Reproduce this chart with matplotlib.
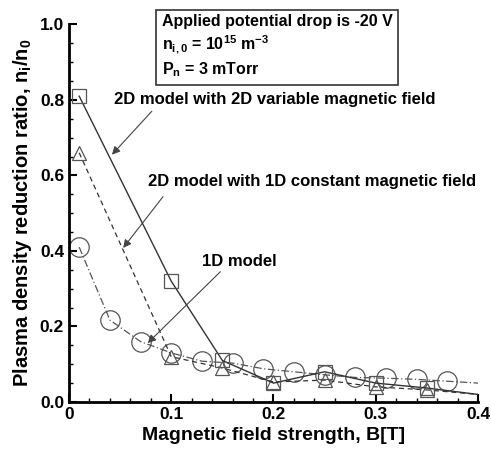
import matplotlib
matplotlib.use("Agg")
import matplotlib.pyplot as plt
from matplotlib.ticker import MultipleLocator

plt.rcParams['font.family'] = ['Liberation Sans', 'DejaVu Sans']
plt.rcParams['font.weight'] = 'bold'
plt.rcParams['mathtext.fontset'] = 'custom'
plt.rcParams['mathtext.rm'] = 'Liberation Sans:bold'
plt.rcParams['mathtext.it'] = 'Liberation Sans:bold'
plt.rcParams['mathtext.bf'] = 'Liberation Sans:bold'
plt.rcParams['mathtext.default'] = 'rm'

# 2D model with 2D variable magnetic field (squares, solid)
b_sq = [0.01, 0.10, 0.15, 0.20, 0.25, 0.30, 0.35, 0.40]
n_sq = [0.81, 0.32, 0.11, 0.05, 0.08, 0.05, 0.037, 0.02]
sq_marked = 7  # markers for the first 7 points

# 2D model with 1D constant magnetic field (triangles, dashed)
b_tr = [0.01, 0.10, 0.15, 0.20, 0.25, 0.30, 0.35, 0.40]
n_tr = [0.66, 0.12, 0.09, 0.053, 0.058, 0.04, 0.032, 0.02]

# 1D model (circles, dash-dot)
b_ci = [0.01, 0.04, 0.07, 0.10, 0.13, 0.16, 0.19, 0.22, 0.25, 0.28, 0.31, 0.34, 0.37, 0.40]
n_ci = [0.41, 0.217, 0.16, 0.13, 0.108, 0.103, 0.088, 0.08, 0.072, 0.065, 0.063, 0.06, 0.055, 0.05]

x_ticks = [0, 0.1, 0.2, 0.3, 0.4]
x_ticklabels = ['0', '0.1', '0.2', '0.3', '0.4']
y_ticks = [0, 0.2, 0.4, 0.6, 0.8, 1.0]
y_ticklabels = ['0.0', '0.2', '0.4', '0.6', '0.8', '1.0']

fig = plt.figure(figsize=(4.91, 4.5), dpi=100)
ax = fig.add_axes([0.1405, 0.1067, 0.833, 0.839])

ax.plot(b_ci, n_ci, color='#555555', lw=0.9, ls=(0, (6, 2, 1, 2)))
ax.plot(b_ci[:-1], n_ci[:-1], ls='none', marker='o', ms=14, mfc='none', mec='#555555', mew=0.9)
ax.plot(b_tr, n_tr, color='#333333', lw=0.9, ls=(0, (4, 3)))
ax.plot(b_tr[:-1], n_tr[:-1], ls='none', marker='^', ms=10, mfc='none', mec='#555555', mew=0.9)
ax.plot(b_sq, n_sq, color='#333333', lw=1.0, ls='-')
ax.plot(b_sq[:sq_marked], n_sq[:sq_marked], ls='none', marker='s', ms=10, mfc='none', mec='#555555', mew=0.9)

ax.set_xlim(0, 0.4)
ax.set_ylim(0, 1.0)
ax.spines['top'].set_visible(False)
ax.spines['right'].set_visible(False)
ax.spines['left'].set_linewidth(2)
ax.spines['bottom'].set_linewidth(2)
ax.set_xticks(x_ticks)
ax.set_xticklabels(x_ticklabels, fontweight='bold')
ax.set_yticks(y_ticks)
ax.set_yticklabels(y_ticklabels, fontweight='bold')
ax.xaxis.set_minor_locator(MultipleLocator(0.02))
ax.yaxis.set_minor_locator(MultipleLocator(0.05))
ax.tick_params(which='major', direction='in', length=6, width=1.5, labelsize=12.5)
ax.tick_params(which='minor', direction='in', length=3, width=1)

ax.set_xlabel('Magnetic field strength, B[T]', fontsize=14, fontweight='bold', labelpad=4)
ax.set_ylabel('Plasma density reduction ratio, n$_i$/n$_0$', fontsize=14.5, fontweight='bold', labelpad=4)

ax.text(0.091, 1.027,
        'Applied potential drop is -20 V\n'
        'n$_{i,0}$ = 10$^{15}$ m$^{-3}$\n'
        'P$_n$ = 3 mTorr',
        fontsize=11.5, fontweight='bold', va='top', ha='left', linespacing=1.3,
        clip_on=False,
        bbox=dict(boxstyle='square,pad=0.35', fc='white', ec='#333333', lw=1.2))

arrow = dict(arrowstyle='-|>', color='#444444', lw=0.8, mutation_scale=12,
             shrinkA=0, shrinkB=0)
ax.annotate('', xy=(0.042, 0.655), xytext=(0.081, 0.77), arrowprops=arrow)
ax.text(0.044, 0.80, '2D model with 2D variable magnetic field', fontsize=12,
        fontweight='bold', va='center', ha='left')
ax.annotate('', xy=(0.053, 0.408), xytext=(0.092, 0.544), arrowprops=arrow)
ax.text(0.077, 0.583, '2D model with 1D constant magnetic field', fontsize=12,
        fontweight='bold', va='center', ha='left')
ax.annotate('', xy=(0.077, 0.156), xytext=(0.148, 0.345), arrowprops=arrow)
ax.text(0.167, 0.372, '1D model', fontsize=12, fontweight='bold', va='center', ha='center')

fig.savefig('out.png', dpi=100)
